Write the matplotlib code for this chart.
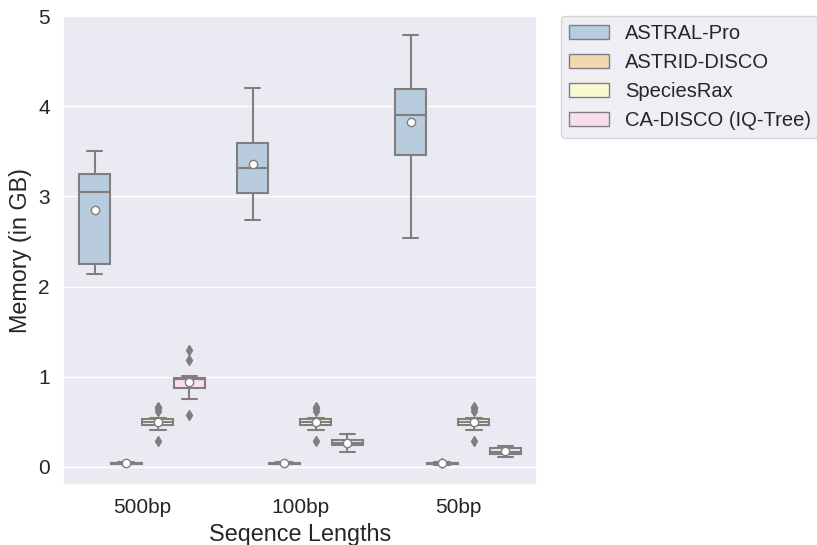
import numpy as np
import matplotlib
matplotlib.use("Agg")
import matplotlib.pyplot as plt
from matplotlib.patches import Patch
import seaborn as sns

# ======================
#  Data
# ======================
categories = ["500bp", "100bp", "50bp"]
methods = ["ASTRAL-Pro", "ASTRID-DISCO", "SpeciesRax", "CA-DISCO (IQ-Tree)"]
colors = ["#b3cde3", "#fed9a6", "#ffffcc", "#fddaec"]

# rows = methods, cols = categories
whislo = [[2.14, 2.74, 2.54],
          [0.03, 0.03, 0.02],
          [0.41, 0.41, 0.41],
          [0.75, 0.17, 0.11]]
q1 = [[2.25, 3.04, 3.46],
      [0.035, 0.035, 0.035],
      [0.47, 0.47, 0.47],
      [0.88, 0.24, 0.145]]
med = [[3.05, 3.31, 3.90],
       [0.04, 0.04, 0.04],
       [0.50, 0.50, 0.50],
       [0.97, 0.27, 0.17]]
q3 = [[3.25, 3.59, 4.19],
      [0.045, 0.045, 0.045],
      [0.53, 0.53, 0.53],
      [0.99, 0.30, 0.205]]
whishi = [[3.50, 4.20, 4.79],
          [0.05, 0.05, 0.06],
          [0.54, 0.54, 0.54],
          [1.005, 0.365, 0.235]]
means = [[2.85, 3.36, 3.83],
         [0.04, 0.04, 0.04],
         [0.50, 0.50, 0.50],
         [0.945, 0.27, 0.175]]
fliers = [[[], [], []],
          [[], [], [0.04]],
          [[0.29, 0.62, 0.65, 0.67], [0.29, 0.62, 0.65, 0.67], [0.29, 0.62, 0.65, 0.67]],
          [[0.58, 1.19, 1.30], [], []]]

# ======================
#  Plot
# ======================
sns.set_theme(style="darkgrid")
plt.rcParams['font.family'] = ['Arial', 'Liberation Sans', 'DejaVu Sans']

fig = plt.figure(figsize=(8.17, 5.45), dpi=100)
ax = fig.add_axes([63 / 817, 1 - 485 / 545, 474 / 817, 469 / 545])

line_gray = "#7f7f7f"
n = len(methods)
each_w = 0.8 / n
offsets = (np.arange(n) - (n - 1) / 2) * each_w

for m in range(n):
    fill = sns.desaturate(colors[m], 0.75)
    stats = []
    for c in range(len(categories)):
        stats.append(dict(whislo=whislo[m][c], q1=q1[m][c], med=med[m][c],
                          q3=q3[m][c], whishi=whishi[m][c], mean=means[m][c],
                          fliers=fliers[m][c]))
    pos = np.arange(len(categories)) + offsets[m]
    ax.bxp(stats, positions=pos, widths=each_w * 0.98, patch_artist=True,
           showmeans=True, manage_ticks=False,
           boxprops=dict(facecolor=fill, edgecolor=line_gray, linewidth=1.5),
           medianprops=dict(color=line_gray, linewidth=1.5),
           whiskerprops=dict(color=line_gray, linewidth=1.5),
           capprops=dict(color=line_gray, linewidth=1.5),
           flierprops=dict(marker="d", markerfacecolor=line_gray,
                           markeredgecolor=line_gray, markersize=5),
           meanprops=dict(marker="o", markerfacecolor="white",
                          markeredgecolor=line_gray, markersize=6))

ax.set_xticks(range(len(categories)))
ax.set_xticklabels(categories)
ax.set_xlim(-0.5, len(categories) - 0.5)
ax.set_ylim(-0.2, 5)
ax.xaxis.grid(False)
ax.tick_params(labelsize=15)
ax.set_xlabel("Seqence Lengths", fontsize=16.8)
ax.set_ylabel("Memory (in GB)", fontsize=16.8)

handles = [Patch(facecolor=sns.desaturate(col, 0.75), edgecolor=line_gray,
                 linewidth=1.0, label=lab) for col, lab in zip(colors, methods)]
ax.legend(handles=handles, bbox_to_anchor=(1.05, 1), loc=2, borderaxespad=0.,
          fontsize=14.5)

fig.savefig("out.png", dpi=100)
